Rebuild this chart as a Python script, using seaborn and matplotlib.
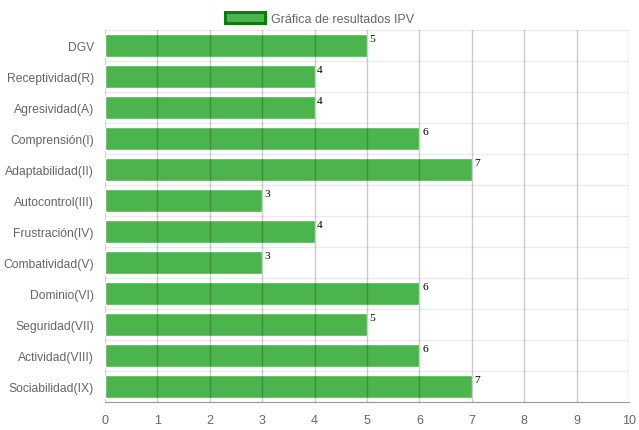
import pandas as pd
import matplotlib
matplotlib.use("Agg")
import matplotlib.pyplot as plt
import seaborn as sns
from matplotlib.patches import Patch

# --- data ---------------------------------------------------------
categories = ["DGV", "Receptividad(R)", "Agresividad(A)", "Comprensión(I)",
              "Adaptabilidad(II)", "Autocontrol(III)", "Frustración(IV)",
              "Combatividad(V)", "Dominio(VI)", "Seguridad(VII)",
              "Actividad(VIII)", "Sociabilidad(IX)"]
scores = [5, 4, 4, 6, 7, 3, 4, 3, 6, 5, 6, 7]
x_ticks = list(range(0, 11))
series_label = "Gráfica de resultados IPV"

df = pd.DataFrame({"cat": categories, "score": scores})

sns.set_style("white")
plt.rcParams["font.family"] = ["Liberation Sans", "DejaVu Sans"]

bar_color = "#4cb44c"

fig = plt.figure(figsize=(6.39, 4.31), dpi=100)
ax = fig.add_axes([105 / 639, 1 - 403 / 431, 524 / 639, 372 / 431])

sns.barplot(data=df, x="score", y="cat", orient="h", color=bar_color,
            width=0.72, saturation=1, ax=ax, zorder=3)

# grid lines (chart.js look)
for i in range(len(categories) + 1):
    ax.axhline(i - 0.5, color="#ebebeb", lw=1, zorder=1)
for t in x_ticks[1:]:
    ax.axvline(t, color="#000000", alpha=0.2, lw=1, zorder=4)

ax.set_xlim(0, 10)
ax.set_ylim(len(categories) - 0.5, -0.5)
ax.set_xticks(x_ticks)
ax.set_yticks([i - 0.5 for i in range(len(categories) + 1)], minor=True)
ax.set_xlabel("")
ax.set_ylabel("")

for s in ["top", "right"]:
    ax.spines[s].set_visible(False)
ax.spines["left"].set_color("#d0d0d0")
ax.spines["bottom"].set_color("#999999")

ax.tick_params(axis="x", colors="#666666", labelsize=9, length=6,
               width=1, pad=3)
ax.tick_params(axis="x", color="#bbbbbb")
ax.tick_params(axis="y", which="major", labelcolor="#666666", labelsize=8.7,
               length=0, pad=8)
ax.tick_params(axis="y", which="minor", length=9, color="#ebebeb", width=1)

# value labels
for i, v in enumerate(scores):
    ax.text(v + 0.05, i - 0.37, str(v), family=["Liberation Serif", "DejaVu Serif"],
            fontsize=8.2, color="#000000", ha="left", va="top", zorder=5)

handle = Patch(facecolor=bar_color, edgecolor="#0a7d0a", linewidth=2.2)
fig.legend([handle], [series_label], loc="upper center",
           bbox_to_anchor=(0.5, 0.995), frameon=False, fontsize=9,
           labelcolor="#666666", handlelength=3.2, handleheight=0.9,
           handletextpad=0.5)

fig.savefig("out.png", dpi=100)
